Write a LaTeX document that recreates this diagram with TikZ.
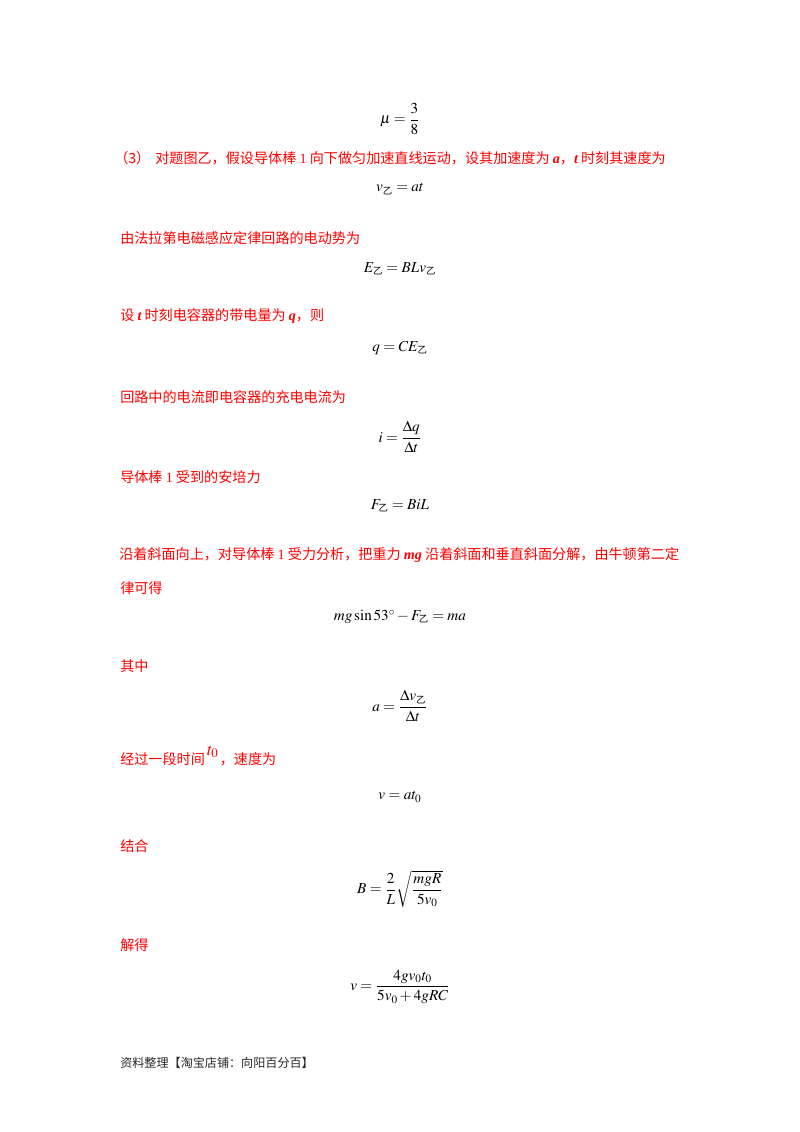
\documentclass[tikz,border=0pt]{standalone}
\usepackage{amsmath}
\usepackage{mathptmx}
\usepackage[no-math]{fontspec}
\setmainfont{Liberation Serif}
\newfontfamily\cjk{Noto Sans CJK SC}
\usetikzlibrary{positioning}

\newcommand{\yi}{\mbox{\fontsize{7}{7}\selectfont\cjk 乙}}
\newcommand{\vb}[1]{{\rmfamily\bfseries\itshape #1}}
\tikzset{
	bodyline/.style={anchor=west, inner sep=0pt, text=red, font=\fontsize{10.5}{12}\selectfont\cjk},
	eqline/.style={inner sep=0pt, text=black, font=\fontsize{11.3}{13}\selectfont},
	footline/.style={anchor=west, inner sep=0pt, text=black!85, font=\fontsize{9}{11}\selectfont\cjk}
}

\begin{document}
\begin{tikzpicture}[x=0.744pt,y=-0.744pt]
	\useasboundingbox (0,0) rectangle (800,1132);
	% solution text, top to bottom
	\node[eqline] (e_0) at (400,119) {$\mu=\dfrac{3}{8}$};
	\node[bodyline] (t_0) at (114,158) {（3）\hspace{3.7pt}对题图乙，假设导体棒 {\rmfamily 1} 向下做匀加速直线运动，设其加速度为 \vb{a}，\vb{t} 时刻其速度为};
	\node[eqline] (e_1) at (400,189) {$v_{\yi}=at$};
	\node[bodyline] (t_1) at (120,238) {由法拉第电磁感应定律回路的电动势为};
	\node[eqline] (e_2) at (400,269) {$E_{\yi}=BLv_{\yi}$};
	\node[bodyline] (t_2) at (120,316) {设 \vb{t} 时刻电容器的带电量为 \vb{q}，则};
	\node[eqline] (e_3) at (400,348) {$q=CE_{\yi}$};
	\node[bodyline] (t_3) at (120,397) {回路中的电流即电容器的充电电流为};
	\node[eqline] (e_4) at (400,437) {$i=\dfrac{\Delta q}{\Delta t}$};
	\node[bodyline] (t_4) at (120,477) {导体棒 {\rmfamily 1} 受到的安培力};
	\node[eqline] (e_5) at (400,506) {$F_{\yi}=BiL$};
	\node[bodyline] (t_5) at (119,555) {沿着斜面向上，对导体棒 {\rmfamily 1} 受力分析，把重力 \vb{mg} 沿着斜面和垂直斜面分解，由牛顿第二定};
	\node[bodyline] (t_6) at (120,588) {律可得};
	\node[eqline] (e_6) at (400,617) {$mg\sin 53^\circ-F_{\yi}=ma$};
	\node[bodyline] (t_7) at (120,666) {其中};
	\node[eqline] (e_7) at (400,706) {$a=\dfrac{\Delta v_{\yi}}{\Delta t}$};
	\node[bodyline] (t_8) at (120,756) {经过一段时间\hspace{1.5pt}\raisebox{7pt}{\rmfamily\fontsize{13}{13}\selectfont$t_0$}\hspace{1pt}，速度为};
	\node[eqline] (e_8) at (400,797) {$v=at_0$};
	\node[bodyline] (t_9) at (120,846) {结合};
	\node[eqline] (e_9) at (400,889) {$B=\dfrac{2}{L}\sqrt{\dfrac{mgR}{5v_0}}$};
	\node[bodyline] (t_10) at (120,945) {解得};
	\node[eqline] (e_10) at (400,987) {$v=\dfrac{4gv_0t_0}{5v_0+4gRC}$};
	\node[footline] (foot) at (120,1063) {资料整理【淘宝店铺：向阳百分百】};
\end{tikzpicture}
\end{document}
